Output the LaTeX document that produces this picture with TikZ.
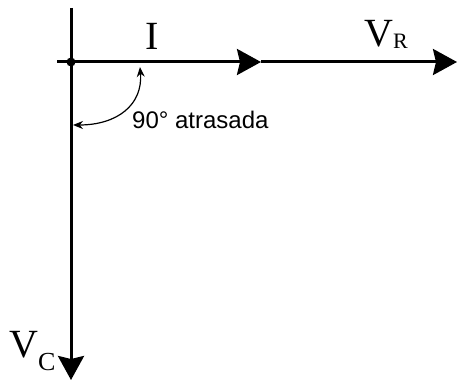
\documentclass[tikz,border=0pt]{standalone}
\usepackage{fontspec}
\setmainfont{Liberation Serif}
\newfontfamily\labsans{Liberation Sans}
\usetikzlibrary{arrows.meta}
\tikzset{
  axis/.style={line width=3pt},
  bigtip/.style={-{Stealth[length=24pt,width=26pt,inset=3pt]}},
  arcline/.style={line width=1.2pt,{Stealth[length=10pt,width=8pt]}-{Stealth[length=10pt,width=8pt]}},
  lab/.style={inner sep=0pt,anchor=base west},
}
\begin{document}
\begin{tikzpicture}[x=1pt,y=1pt]
\useasboundingbox (0,0) rectangle (457,380);
\coordinate (O) at (71,318);
\coordinate (T) at (71,372);
\coordinate (B) at (71,0);
\coordinate (L) at (57,318);
\coordinate (M) at (261,318);
\coordinate (R) at (457,318);
\coordinate (A1) at (140,313);
\coordinate (A2) at (73,255);
\draw[axis] (T) -- (O);
\draw[axis,bigtip] (O) -- (B);
\draw[axis,bigtip] (L) -- (M);
\draw[axis,bigtip] (M) -- (R);
\fill (O) circle (4.5pt);
\draw[arcline] (A1) .. controls (143,275) and (117,255) .. (A2);
\node[lab] (I) at (145,330) {\fontsize{40}{40}\selectfont I};
\node[lab] (VR) at (364,333) {\fontsize{40}{40}\selectfont V\raisebox{-2pt}{\fontsize{22}{22}\selectfont R}};
\node[lab] (VC) at (9,23) {\fontsize{40}{40}\selectfont V\raisebox{-13pt}{\fontsize{26}{26}\selectfont C}};
\node[lab] (ang) at (132,251) {\labsans\fontsize{24}{24}\selectfont 90° atrasada};
\end{tikzpicture}
\end{document}
